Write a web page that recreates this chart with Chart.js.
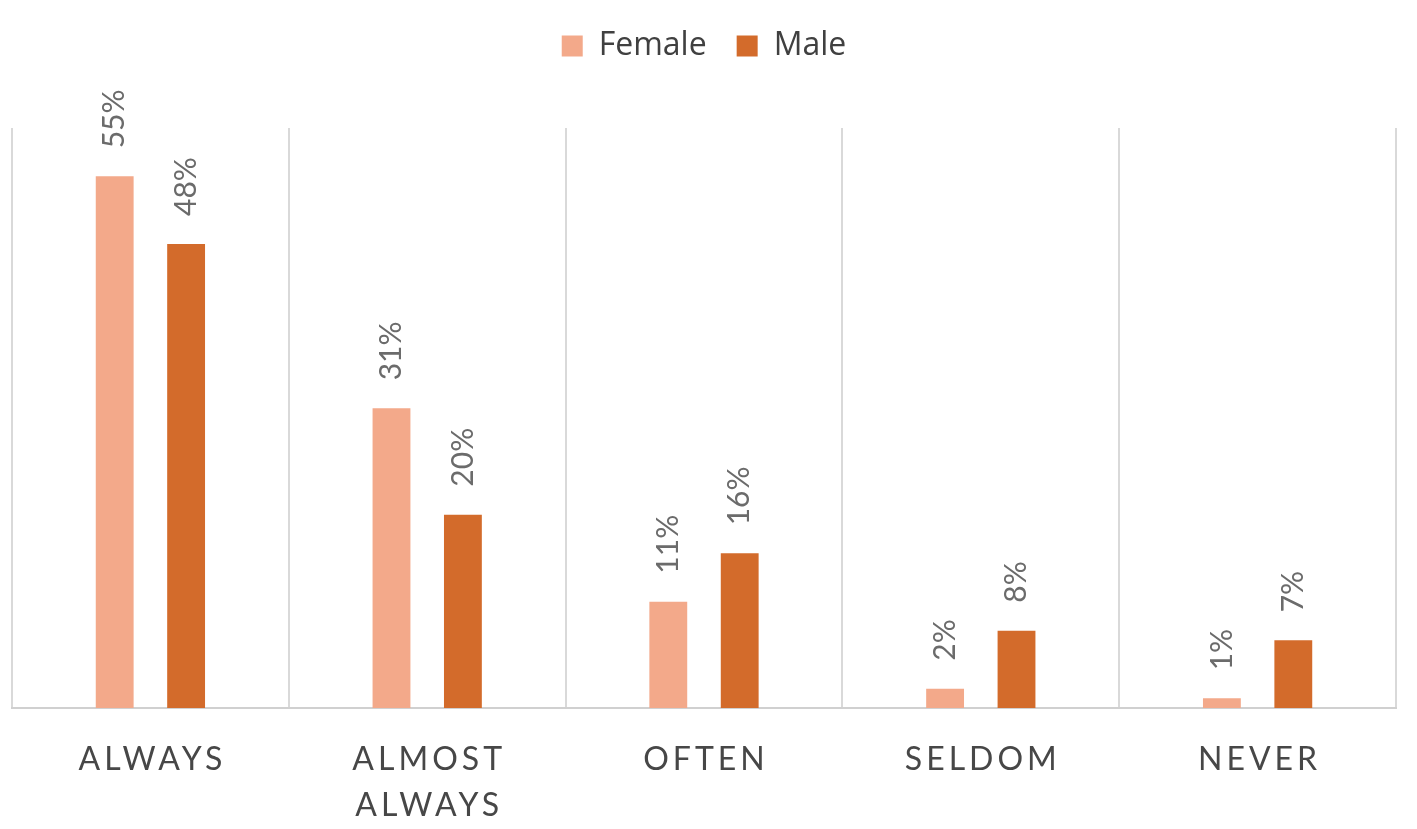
<!DOCTYPE html>
<html>
<head>
<meta charset="utf-8">
<script src="https://cdn.jsdelivr.net/npm/chart.js@4"></script>
<style>
  body{margin:0;background:#fff;}
  #wrap{width:1417px;height:829px;position:relative;}
</style>
</head>
<body>
<div id="wrap"><canvas id="c"></canvas></div>
<script>
// DATA
const categories=[["ALWAYS"],["ALMOST","ALWAYS"],["OFTEN"],["SELDOM"],["NEVER"]];
const female=[55,31,11,2,1];
const male=[48,20,16,8,7];
const seriesNames=["Female","Male"];

const FONT="Lato, 'Open Sans', sans-serif";
const LABEL_GREY="#474747";

// extra room under the legend
const legendGap={
  id:"legendGap",
  beforeInit(chart){
    const fit=chart.legend.fit;
    chart.legend.fit=function(){
      fit.call(this);
      this.height+=56;
    };
  }
};

// value labels, rotated, above each bar
const barLabels={
  id:"barLabels",
  afterDatasetsDraw(chart){
    const ctx=chart.ctx;
    chart.data.datasets.forEach((ds,i)=>{
      chart.getDatasetMeta(i).data.forEach((bar,j)=>{
        ctx.save();
        ctx.translate(bar.x,bar.y-28);
        ctx.rotate(-Math.PI/2);
        ctx.font="30px "+FONT;
        ctx.fillStyle="#6b6b6b";
        ctx.textAlign="left";
        ctx.textBaseline="middle";
        ctx.fillText(ds.data[j]+"%",0,0);
        ctx.restore();
      });
    });
  }
};

// category labels with letter spacing
const catLabels={
  id:"catLabels",
  afterDraw(chart){
    const ctx=chart.ctx, x=chart.scales.x;
    ctx.save();
    ctx.font="32px "+FONT;
    ctx.fillStyle=LABEL_GREY;
    ctx.letterSpacing="4px";
    ctx.textAlign="center";
    ctx.textBaseline="alphabetic";
    categories.forEach((lines,i)=>{
      const cx=x.getPixelForValue(i)+2;
      lines.forEach((t,k)=>ctx.fillText(t,cx,chart.chartArea.bottom+62+k*46));
    });
    ctx.restore();
  }
};

new Chart(document.getElementById("c"),{
  type:"bar",
  data:{
    labels:categories.map(c=>c.join(" ")),
    datasets:[
      {label:seriesNames[0],data:female,backgroundColor:"#F3A98A"},
      {label:seriesNames[1],data:male,backgroundColor:"#D36B2B"}
    ]
  },
  options:{
    responsive:true,
    maintainAspectRatio:false,
    animation:false,
    categoryPercentage:0.516,
    barPercentage:0.53,
    layout:{padding:{left:12,right:21,top:0,bottom:121}},
    plugins:{
      legend:{
        position:"top",
        labels:{
          boxWidth:21,boxHeight:21,padding:30,
          color:"#404040",
          font:{family:"'Open Sans', sans-serif",size:32}
        }
      },
      tooltip:{enabled:false}
    },
    scales:{
      x:{
        grid:{display:true,offset:true,color:"#D9D9D9",lineWidth:2,drawTicks:false},
        border:{display:true,color:"#D0D0D0",width:2},
        ticks:{display:false}
      },
      y:{
        display:false,
        min:0,max:60
      }
    }
  },
  plugins:[legendGap,barLabels,catLabels]
});
</script>
</body>
</html>
